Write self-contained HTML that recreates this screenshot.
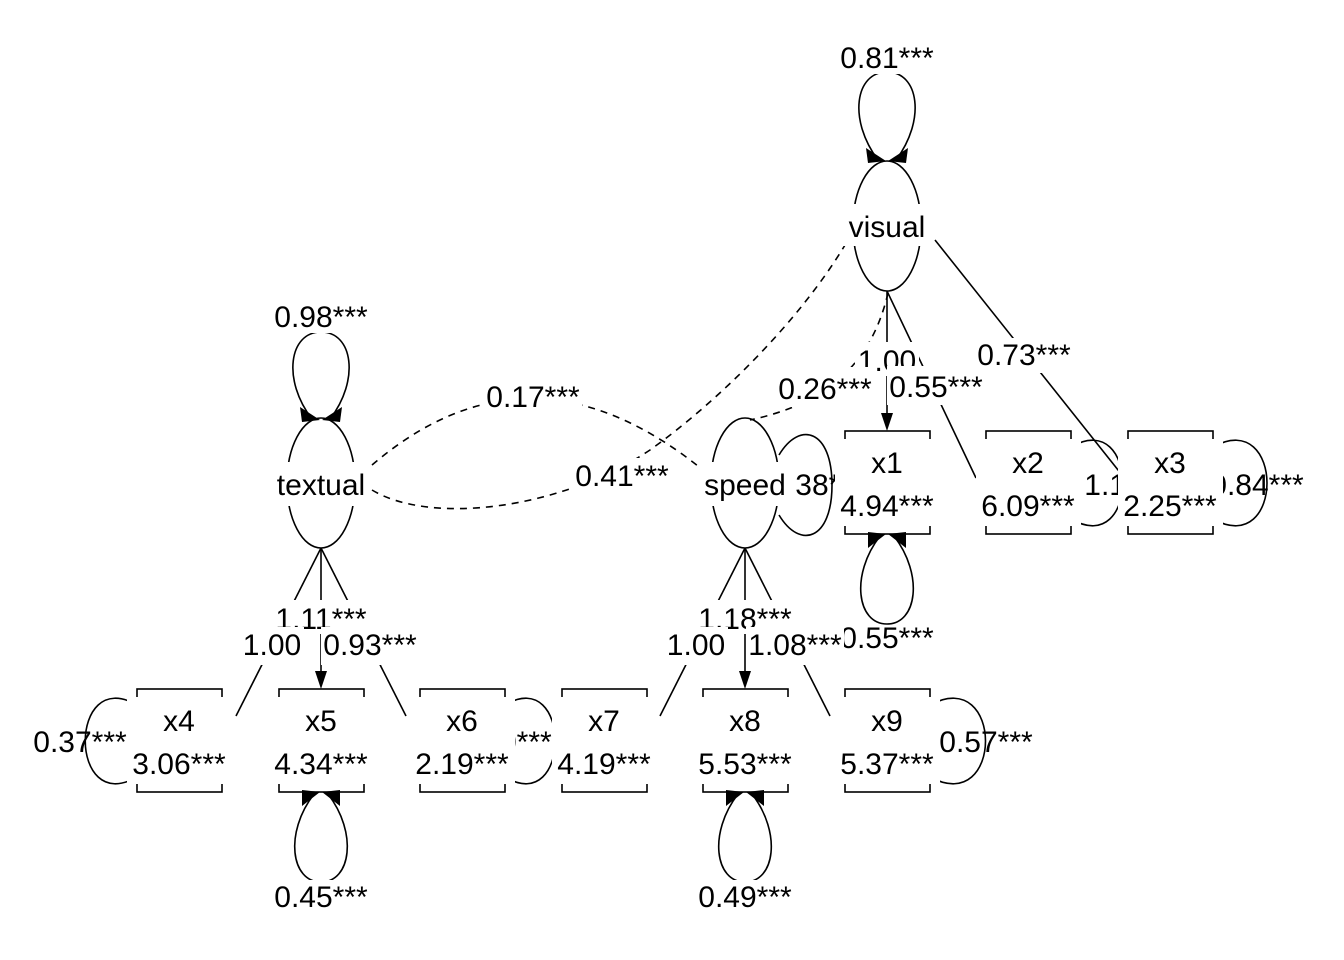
<!DOCTYPE html>
<html><head><meta charset="utf-8"><style>
html,body{margin:0;padding:0;background:#fff;}
svg{display:block;}
text{font-family:"Liberation Sans",Arial,sans-serif;font-size:30px;fill:#000;text-anchor:middle;}
</style></head><body>
<svg width="1344" height="960" viewBox="0 0 1344 960" xmlns="http://www.w3.org/2000/svg">
<g fill="none" stroke="#000" stroke-width="1.6">
<path d="M372,465 Q530,330 703,470" stroke-dasharray="7,6"/>
<path d="M372,490 C430,525 560,510 650,450 C720,400 800,320 845,245" stroke-dasharray="7,6"/>
<path d="M888,293 C870,370 820,405 750,420" stroke-dasharray="7,6"/>
<line x1="887" y1="291" x2="887" y2="415"/>
<line x1="887" y1="291" x2="976" y2="478"/>
<line x1="935" y1="240" x2="1130" y2="485"/>
<line x1="321" y1="548" x2="321" y2="673"/>
<line x1="321" y1="548" x2="236" y2="716"/>
<line x1="321" y1="548" x2="406" y2="716"/>
<line x1="745" y1="548" x2="745" y2="673"/>
<line x1="745" y1="548" x2="660" y2="716"/>
<line x1="745" y1="548" x2="830" y2="716"/>
<path d="M878,160 C848,120 855,72 887,72 C919,72 926,120 896,160"/>
<path d="M312,419 C282,380 289,332 321,332 C353,332 360,380 330,419"/>
<path d="M880,536 C850,575 857,624 887,624 C917,624 924,575 894,536"/>
<path d="M314,794 C284,833 291,882 321,882 C351,882 358,833 328,794"/>
<path d="M738,794 C708,833 715,882 745,882 C775,882 782,833 752,794"/>
<path d="M137,705 C68,665 68,817 137,777"/>
<path d="M505,705 C572,665 572,817 505,777"/>
<path d="M930,705 C1004,665 1004,817 930,777"/>
<path d="M1071,447 C1140,407 1140,559 1071,519"/>
<path d="M1213,447 C1285,407 1285,559 1213,519"/>
<path d="M779,455 C800,420 832,430 832,485 C832,540 800,550 779,515"/>
<ellipse cx="887" cy="226" rx="34" ry="65"/>
<ellipse cx="321" cy="483" rx="34" ry="65"/>
<ellipse cx="745" cy="483" rx="34" ry="65"/>
<rect x="845" y="431" width="85" height="103"/>
<rect x="986" y="431" width="85" height="103"/>
<rect x="1128" y="431" width="85" height="103"/>
<rect x="137" y="689" width="85" height="103"/>
<rect x="279" y="689" width="85" height="103"/>
<rect x="420" y="689" width="85" height="103"/>
<rect x="562" y="689" width="85" height="103"/>
<rect x="703" y="689" width="85" height="103"/>
<rect x="845" y="689" width="85" height="103"/>
</g>
<g fill="#000">
<polygon points="881,413 893,413 887,431"/>
<polygon points="315,671 327,671 321,689"/>
<polygon points="739,671 751,671 745,689"/>
<polygon points="866,148 886,161 868,163"/><polygon points="908,148 888,161 906,163"/>
<polygon points="300,407 320,420 302,422"/><polygon points="342,407 322,420 340,422"/>
<polygon points="868,548 886,534 868,532"/><polygon points="906,548 888,534 906,532"/>
<polygon points="302,806 320,792 302,790"/><polygon points="340,806 322,792 340,790"/>
<polygon points="726,806 744,792 726,790"/><polygon points="764,806 746,792 764,790"/>
</g>
<g>
<text x="80" y="752">0.37***</text>
<text x="505" y="752">0.80***</text>
<text x="986" y="752">0.57***</text>
<text x="1131" y="495">1.13***</text>
<text x="1257" y="495">0.84***</text>
<text x="817" y="495">0.38***</text>
<text x="887" y="648">0.55***</text>
</g>
<g fill="#fff">
<rect x="127" y="697" width="105" height="87"/>
<rect x="269" y="697" width="105" height="87"/>
<rect x="410" y="697" width="105" height="87"/>
<rect x="552" y="697" width="105" height="87"/>
<rect x="693" y="697" width="105" height="87"/>
<rect x="835" y="697" width="105" height="87"/>
<rect x="835" y="439" width="105" height="87"/>
<rect x="976" y="439" width="105" height="87"/>
<rect x="1118" y="439" width="105" height="87"/>
<rect x="842" y="204" width="90" height="42"/>
<rect x="274" y="462" width="94" height="44"/>
<rect x="700" y="462" width="93" height="44"/>
</g>
<text x="887" y="473">x1</text><text x="887" y="516">4.94***</text>
<text x="1028" y="473">x2</text><text x="1028" y="516">6.09***</text>
<text x="1170" y="473">x3</text><text x="1170" y="516">2.25***</text>
<text x="179" y="731">x4</text><text x="179" y="774">3.06***</text>
<text x="321" y="731">x5</text><text x="321" y="774">4.34***</text>
<text x="462" y="731">x6</text><text x="462" y="774">2.19***</text>
<text x="604" y="731">x7</text><text x="604" y="774">4.19***</text>
<text x="745" y="731">x8</text><text x="745" y="774">5.53***</text>
<text x="887" y="731">x9</text><text x="887" y="774">5.37***</text>
<text x="887" y="237">visual</text>
<text x="321" y="495">textual</text>
<text x="745" y="495">speed</text>
<g>
<rect x="838" y="40" width="98" height="34" fill="#fff"/><text x="887" y="68">0.81***</text>
<rect x="272" y="299" width="98" height="34" fill="#fff"/><text x="321" y="327">0.98***</text>
<rect x="484" y="380" width="98" height="35" fill="#fff"/><text x="533" y="407">0.17***</text>
<rect x="573" y="458" width="98" height="35" fill="#fff"/><text x="622" y="486">0.41***</text>
<rect x="975" y="338" width="98" height="35" fill="#fff"/><text x="1024" y="365">0.73***</text>
<rect x="855" y="342" width="64" height="34" fill="#fff"/><text x="887" y="371">1.00</text>
<rect x="776" y="367" width="98" height="40" fill="#fff"/><text x="825" y="399">0.26***</text>
<rect x="887" y="366" width="98" height="39" fill="#fff"/><text x="936" y="397">0.55***</text>
<rect x="272" y="600" width="98" height="34" fill="#fff"/><text x="321" y="629">1.11***</text>
<rect x="240" y="627" width="64" height="38" fill="#fff"/><text x="272" y="655">1.00</text>
<rect x="321" y="627" width="98" height="38" fill="#fff"/><text x="370" y="655">0.93***</text>
<rect x="696" y="600" width="98" height="34" fill="#fff"/><text x="745" y="629">1.18***</text>
<rect x="664" y="627" width="64" height="38" fill="#fff"/><text x="696" y="655">1.00</text>
<rect x="746" y="627" width="98" height="38" fill="#fff"/><text x="795" y="655">1.08***</text>
<rect x="272" y="880" width="98" height="34" fill="#fff"/><text x="321" y="907">0.45***</text>
<rect x="696" y="880" width="98" height="34" fill="#fff"/><text x="745" y="907">0.49***</text>
</g>
</svg>
</body></html>
